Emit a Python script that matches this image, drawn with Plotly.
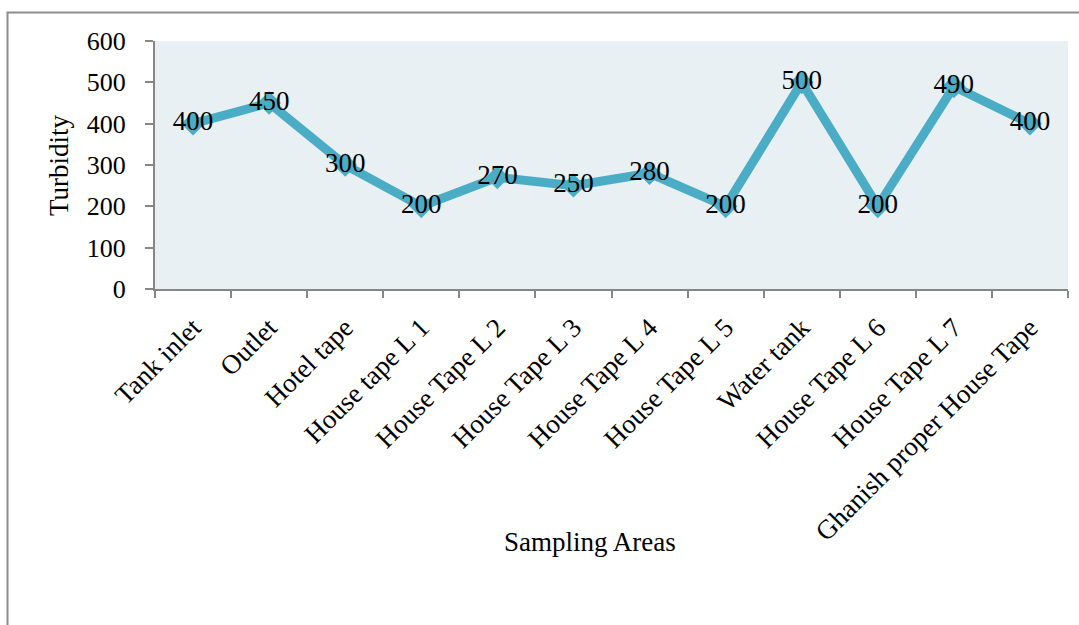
import plotly.graph_objects as go

# Turbidity measured at each sampling area
areas = [
    "Tank inlet", "Outlet", "Hotel tape", "House tape L 1", "House Tape L 2",
    "House Tape L 3", "House Tape L 4", "House Tape L 5", "Water tank",
    "House Tape L 6", "House Tape L 7", "Ghanish proper House Tape",
]
turbidity = [400, 450, 300, 200, 270, 250, 280, 200, 500, 200, 490, 400]
y_ticks = [0, 100, 200, 300, 400, 500, 600]

W, H = 1079, 625
L, R, T, B = 155, 11, 41, 336
pw, ph = W - L - R, H - T - B

SERIF = "Liberation Serif, Times New Roman, serif"
LINE = "#4BACC6"
AXIS = "#868686"

fig = go.Figure()
fig.add_trace(go.Scatter(
    x=areas,
    y=turbidity,
    mode="lines+markers+text",
    line=dict(color=LINE, width=9),
    marker=dict(symbol="diamond", size=16, color=LINE, line=dict(color=LINE, width=2)),
    text=[str(v) for v in turbidity],
    textposition="middle center",
    textfont=dict(family=SERIF, size=27, color="black"),
    cliponaxis=False,
    hoverinfo="x+y",
))


def px_x(p):
    return (p - L) / pw


def px_y(p):
    return (H - B - p) / ph


fig.update_layout(
    width=W,
    height=H,
    margin=dict(l=L, r=R, t=T, b=B),
    paper_bgcolor="white",
    plot_bgcolor="#E9F0F4",
    showlegend=False,
    font=dict(family=SERIF, color="black"),
    xaxis=dict(
        type="category",
        range=[-0.5, len(areas) - 0.5],
        tickson="boundaries",
        ticks="outside",
        ticklen=7,
        tickwidth=2,
        tickcolor=AXIS,
        showline=True,
        linecolor=AXIS,
        linewidth=2,
        showgrid=False,
        zeroline=False,
        tickangle=-45,
        ticklabelstandoff=10,
        tickfont=dict(family=SERIF, size=27, color="black"),
    ),
    yaxis=dict(
        range=[0, 600],
        tickvals=y_ticks,
        ticks="outside",
        ticklen=8,
        tickwidth=2,
        tickcolor=AXIS,
        showline=True,
        linecolor=AXIS,
        linewidth=2,
        showgrid=False,
        zeroline=False,
        ticklabelstandoff=14,
        tickfont=dict(family=SERIF, size=26, color="black"),
    ),
    annotations=[
        dict(text="Turbidity", x=px_x(59), y=px_y(165), xref="paper", yref="paper",
             textangle=-90, showarrow=False, xanchor="center", yanchor="middle",
             font=dict(family=SERIF, size=27, color="black")),
        dict(text="Sampling Areas", x=px_x(590), y=px_y(542), xref="paper", yref="paper",
             showarrow=False, xanchor="center", yanchor="middle",
             font=dict(family=SERIF, size=27, color="black")),
    ],
    shapes=[
        dict(type="rect", xref="paper", yref="paper",
             x0=px_x(7.5), x1=px_x(W + 5), y0=px_y(H + 5), y1=px_y(12.5),
             line=dict(color="#8C8C8C", width=2), fillcolor="rgba(0,0,0,0)",
             layer="below"),
    ],
)

fig.write_html("out.html")
